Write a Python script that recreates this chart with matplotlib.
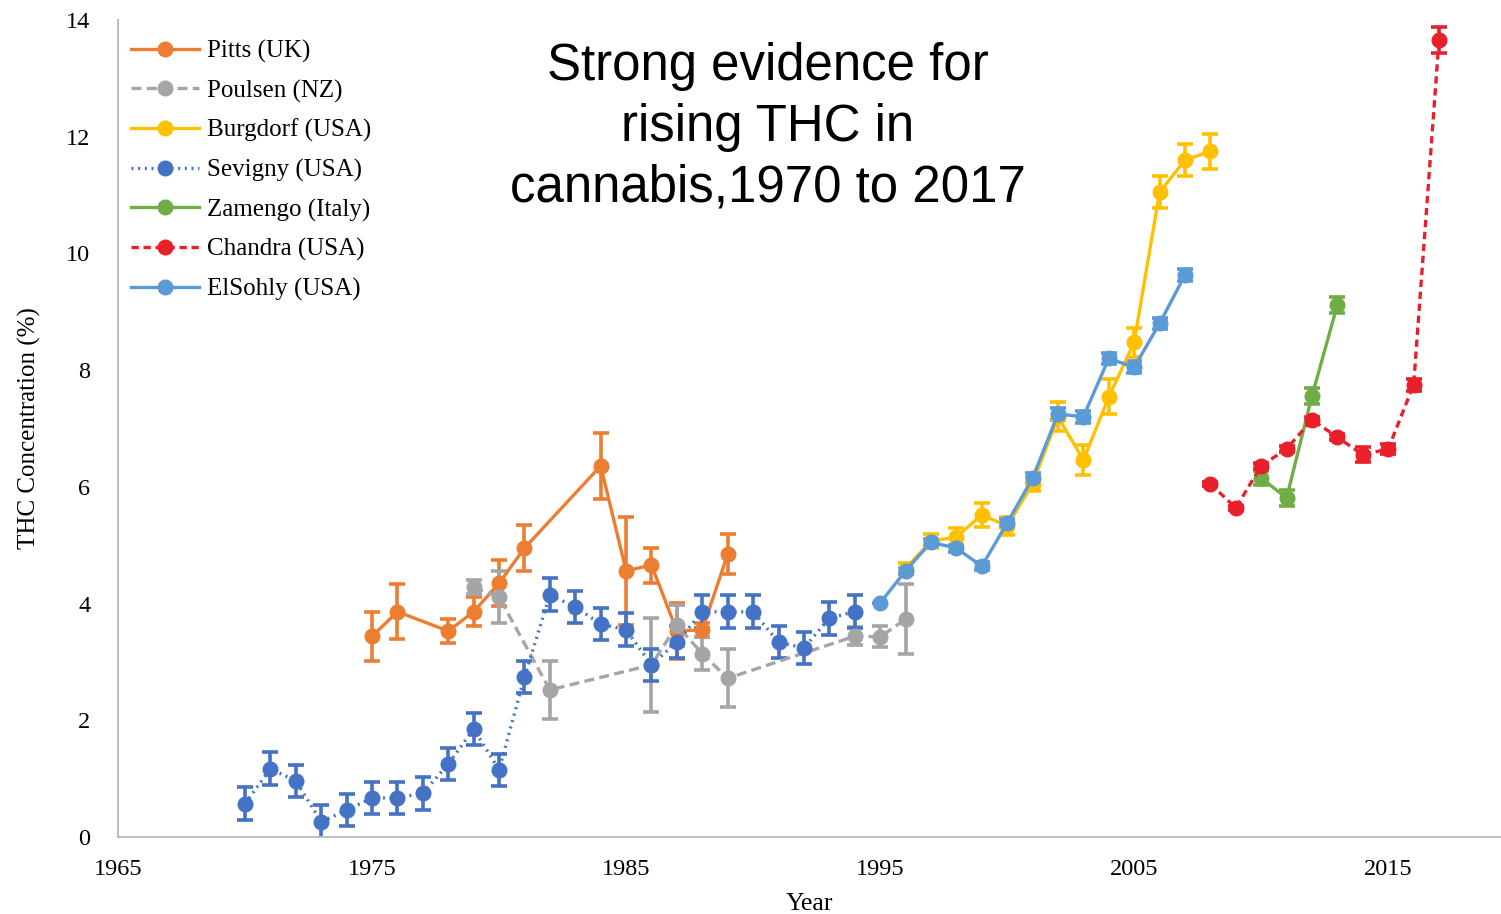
import numpy as np
import matplotlib.pyplot as plt

# Pitts (UK)
pitts_x = [1975, 1976, 1978, 1979, 1980, 1981, 1984, 1985, 1986, 1987, 1988, 1989]
pitts_y = [3.44, 3.86, 3.53, 3.86, 4.35, 4.95, 6.36, 4.56, 4.66, 3.53, 3.55, 4.85]
pitts_e = [0.42, 0.47, 0.2, 0.25, 0.4, 0.4, 0.57, 0.92, 0.3, 0.48, 0.12, 0.35]

# Poulsen (NZ)
poulsen_x = [1979, 1980, 1982, 1986, 1987, 1988, 1989, 1994, 1995, 1996]
poulsen_y = [4.28, 4.11, 2.52, 2.95, 3.63, 3.14, 2.72, 3.44, 3.43, 3.73]
poulsen_e = [0.12, 0.45, 0.5, 0.8, 0.35, 0.28, 0.5, 0.15, 0.18, 0.6]

# Burgdorf (USA)
burg_x = [1996, 1997, 1998, 1999, 2000, 2001, 2002, 2003, 2004, 2005, 2006, 2007, 2008]
burg_y = [4.6, 5.07, 5.14, 5.52, 5.33, 6.05, 7.2, 6.46, 7.54, 8.48, 11.05, 11.6, 11.75]
burg_e = [0.1, 0.12, 0.15, 0.2, 0.15, 0.12, 0.25, 0.25, 0.3, 0.25, 0.28, 0.28, 0.3]

# Sevigny (USA)
sev_x = list(range(1970, 1995))
sev_y = [0.57, 1.17, 0.96, 0.26, 0.46, 0.67, 0.67, 0.75, 1.25, 1.85, 1.15, 2.74, 4.15,
         3.94, 3.65, 3.55, 2.95, 3.34, 3.86, 3.86, 3.86, 3.34, 3.24, 3.75, 3.86]
sev_e = [0.28] * len(sev_x)

# Zamengo (Italy)
zam_x = [2010, 2011, 2012, 2013]
zam_y = [6.15, 5.81, 7.56, 9.12]
zam_e = [0.12, 0.14, 0.14, 0.14]

# Chandra (USA)
chan_x = [2008, 2009, 2010, 2011, 2012, 2013, 2014, 2015, 2016, 2017]
chan_y = [6.05, 5.64, 6.36, 6.65, 7.15, 6.85, 6.55, 6.65, 7.75, 13.66]
chan_e = [0.03, 0.03, 0.05, 0.05, 0.05, 0.05, 0.13, 0.08, 0.1, 0.22]

# ElSohly (USA)
els_x = list(range(1995, 2008))
els_y = [4.01, 4.56, 5.05, 4.95, 4.64, 5.38, 6.15, 7.25, 7.2, 8.2, 8.05, 8.8, 9.63]
els_e = [0.0, 0.05, 0.06, 0.06, 0.07, 0.07, 0.08, 0.1, 0.1, 0.1, 0.1, 0.1, 0.1]

series = [
    ("Pitts (UK)", pitts_x, pitts_y, pitts_e, "#ED7D31", "-"),
    ("Poulsen (NZ)", poulsen_x, poulsen_y, poulsen_e, "#A5A5A5", (0, (3, 1.6))),
    ("Burgdorf (USA)", burg_x, burg_y, burg_e, "#FFC000", "-"),
    ("Sevigny (USA)", sev_x, sev_y, sev_e, "#4472C4", (0, (0.6, 1.4))),
    ("Zamengo (Italy)", zam_x, zam_y, zam_e, "#70AD47", "-"),
    ("Chandra (USA)", chan_x, chan_y, chan_e, "#E8202A", (0, (2.2, 1.4))),
    ("ElSohly (USA)", els_x, els_y, els_e, "#5B9BD5", "-"),
]

plt.rcParams['font.family'] = ['Liberation Serif', 'DejaVu Serif']

fig = plt.figure(figsize=(15.01, 9.14), dpi=100)
ax = fig.add_axes([118 / 1501, 1 - 837 / 914, (1500 - 118) / 1501, (837 - 20) / 914])

for name, xs, ys, es, col, ls in series:
    ax.errorbar(xs, ys, yerr=es, color=col, ls=ls, lw=2.4, marker='o', ms=10.5,
                capsize=5.5, capthick=2.6, elinewidth=2.6, label=name)

ax.set_xlim(1965, 2019.4)
ax.set_ylim(0, 14)
ax.set_xticks([1965, 1975, 1985, 1995, 2005, 2015])
ax.set_yticks(range(0, 15, 2))
ax.tick_params(length=0, labelsize=17.5)
ax.tick_params(axis='x', pad=16)
ax.tick_params(axis='y', pad=20)
for s in ['top', 'right']:
    ax.spines[s].set_visible(False)
for s in ['left', 'bottom']:
    ax.spines[s].set_color('#BFBFBF')
    ax.spines[s].set_linewidth(1.5)

ax.set_xlabel('Year', fontsize=18.5, labelpad=9)
ax.set_ylabel('THC Concentration (%)', fontsize=18, labelpad=18)

handles, labels = ax.get_legend_handles_labels()
handles = [h[0] for h in handles]
ax.legend(handles, labels, loc='upper left', bbox_to_anchor=(0.0, 0.991), frameon=False,
          fontsize=18, handlelength=2.75, labelspacing=0.66, handletextpad=0.3,
          borderaxespad=0.1)

ax.text(0.47, 0.869, 'Strong evidence for\nrising THC in\ncannabis,1970 to 2017',
        transform=ax.transAxes, ha='center', va='center', fontsize=36.7,
        family='Liberation Sans', linespacing=1.31)

fig.savefig('out.png', dpi=100)
